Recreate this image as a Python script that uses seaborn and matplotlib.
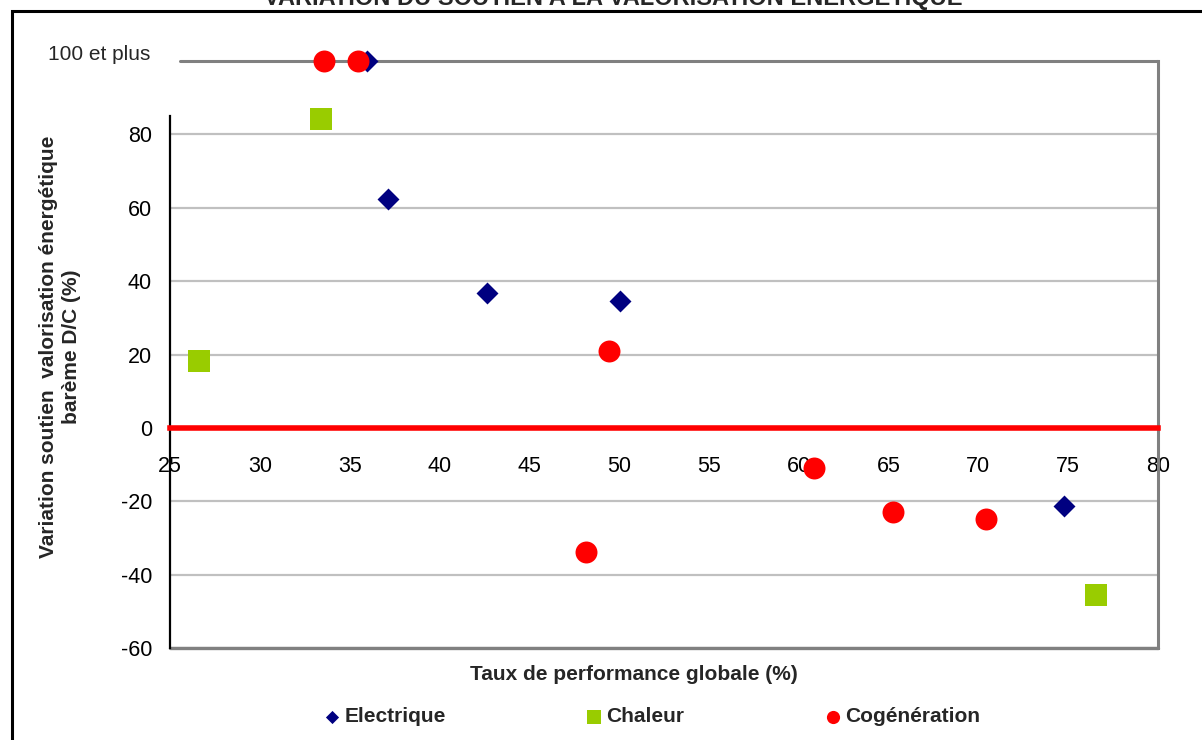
import matplotlib
matplotlib.use("Agg")
import matplotlib.pyplot as plt
import matplotlib.patches as mpatches
import seaborn as sns
import pandas as pd

# ---- data ----
elec_x = [35.97, 37.15, 42.65, 50.05, 74.75]
elec_y = [100, 62.5, 36.7, 34.6, -21.2]
chal_x = [26.6, 33.4, 76.55]
chal_y = [18.2, 84.2, -45.5]
cog_x = [33.55, 35.45, 49.45, 48.15, 60.85, 65.25, 70.45]
cog_y = [100, 100, 20.9, -33.9, -10.9, -22.9, -24.9]

x_ticks = [25, 30, 35, 40, 45, 50, 55, 60, 65, 70, 75, 80]
y_ticks = [-60, -40, -20, 0, 20, 40, 60, 80]
top_label = "100 et plus"

title = "VARIATION DU SOUTIEN A LA VALORISATION ENERGETIQUE"
xlabel = "Taux de performance globale (%)"
ylabel = "Variation soutien  valorisation énergétique\nbarème D/C (%)"

series_names = ["Electrique", "Chaleur", "Cogénération"]
colors = ["#000080", "#99CC00", "#FF0000"]
markers = ["D", "s", "o"]
sizes = [125, 250, 250]

sns.set_style("white")
plt.rcParams["font.family"] = ["Liberation Sans", "DejaVu Sans"]
plt.rcParams["axes.unicode_minus"] = False

W, H = 1202, 740
fig = plt.figure(figsize=(W / 100, H / 100), dpi=100)
L, R, T, B = 170, 1158, 61, 648
ax = fig.add_axes([L / W, 1 - B / H, (R - L) / W, (B - T) / H])

frames = [
    pd.DataFrame({"x": elec_x, "y": elec_y}),
    pd.DataFrame({"x": chal_x, "y": chal_y}),
    pd.DataFrame({"x": cog_x, "y": cog_y}),
]
for df, name, c, m, s in zip(frames, series_names, colors, markers, sizes):
    sns.scatterplot(data=df, x="x", y="y", ax=ax, color=c, marker=m, s=s,
                    linewidth=0, label=name, clip_on=False, zorder=4)

ax.set_xlim(25, 80)
ax.set_ylim(-60, 100)
ax.set_xticks(x_ticks)
ax.set_yticks(y_ticks)
ax.tick_params(axis="both", labelsize=15.5, colors="black")

# grid
ax.yaxis.grid(True, color="#c0c0c0", linewidth=1.6)
ax.xaxis.grid(False)
ax.set_axisbelow(True)

# spines
ax.spines["top"].set_visible(False)
ax.spines["right"].set_color("#808080")
ax.spines["right"].set_linewidth(2.2)
ax.spines["left"].set_color("black")
ax.spines["left"].set_linewidth(1.6)
ax.spines["left"].set_bounds(-60, 85)
ax.spines["bottom"].set_position(("data", 0))
ax.spines["bottom"].set_color("#FF0000")
ax.spines["bottom"].set_linewidth(4)
ax.spines["bottom"].set_zorder(3)

ax.tick_params(axis="x", direction="out", length=6.5, width=3, color="#FF0000",
               pad=14, labelcolor="black")
ax.tick_params(axis="y", direction="out", length=6, width=1.6, color="black",
               pad=7)

# top line at 100 and bottom border at -60
ax.axhline(100, xmin=10 / (R - L), xmax=1, color="#808080", linewidth=2.2,
           clip_on=False, zorder=2)
ax.axhline(-60, color="#808080", linewidth=2.4, clip_on=False, zorder=2)

ax.annotate(top_label, xy=(0, 100), xycoords=("axes fraction", "data"),
            xytext=(-20, 6), textcoords="offset pixels", ha="right",
            va="center", fontsize=15)

# labels
ax.set_xlabel(xlabel, fontsize=15, fontweight="bold", va="center")
ax.xaxis.set_label_coords((634 - L) / (R - L), (B - 675) / (B - T))
ax.set_ylabel(ylabel, fontsize=15, fontweight="bold", va="center",
              ha="center", multialignment="center", linespacing=1.25)
ax.yaxis.set_label_coords((60 - L) / (R - L), (B - 347) / (B - T))

# legend
handles, labels = ax.get_legend_handles_labels()
leg = ax.legend(handles, labels, loc="center",
                bbox_to_anchor=(652 / W, 1 - 717 / H),
                bbox_transform=fig.transFigure, ncol=3, frameon=False,
                markerscale=0.6, handlelength=0.8, handletextpad=0.2,
                columnspacing=6.7, prop={"size": 15, "weight": "bold"})

# title (clipped at top, as in the source)
fig.text(613 / W, 1 - 5 / H, title, ha="center", va="baseline",
         fontsize=17, fontweight="bold")

# outer border
rect = mpatches.Rectangle((12 / W, -0.1), 1.2, 1 - 11 / H + 0.1,
                          transform=fig.transFigure, fill=False,
                          edgecolor="black", linewidth=2.2)
fig.add_artist(rect)

fig.savefig("out.png", dpi=100)
